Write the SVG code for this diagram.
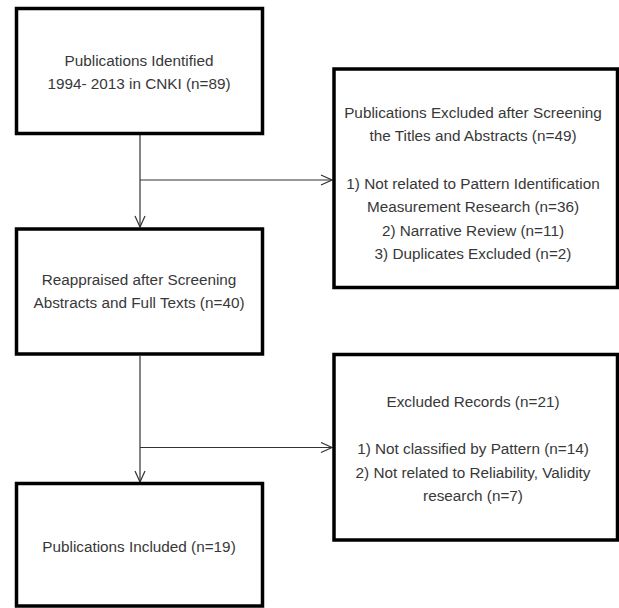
<svg xmlns="http://www.w3.org/2000/svg" width="619" height="608" viewBox="0 0 619 608">
<style>
.box{fill:#fff;stroke:#000;stroke-width:3.5}
.t{font-family:"Liberation Sans",Arial,sans-serif;font-size:15.3px;fill:#383838;text-anchor:middle}
.c{fill:none;stroke:#333;stroke-width:1.2}
</style>
<defs>
<marker id="arr" markerUnits="userSpaceOnUse" markerWidth="14" markerHeight="14" refX="12" refY="6" orient="auto">
<path d="M1,1 L12,6 L1,11" fill="none" stroke="#333" stroke-width="1.2"/>
</marker>
</defs>
<rect width="619" height="608" fill="#fff"/>
<g id="connectors">
<line class="c" x1="140" y1="135" x2="140" y2="227" marker-end="url(#arr)"/>
<line class="c" x1="140" y1="180" x2="332" y2="180" marker-end="url(#arr)"/>
<line class="c" x1="140" y1="356" x2="140" y2="482" marker-end="url(#arr)"/>
<line class="c" x1="140" y1="447.5" x2="332" y2="447.5" marker-end="url(#arr)"/>
</g>
<g id="identified">
<rect class="box" x="16.5" y="8.5" width="246" height="125"/>
<text class="t" x="139" y="66">Publications Identified</text>
<text class="t" x="139" y="89">1994- 2013 in CNKI (n=89)</text>
</g>
<g id="excluded1">
<rect class="box" x="334" y="69" width="283.5" height="218.5"/>
<text class="t" x="473" y="118">Publications Excluded after Screening</text>
<text class="t" x="473" y="141">the Titles and Abstracts (n=49)</text>
<text class="t" x="473" y="189">1) Not related to Pattern Identification</text>
<text class="t" x="473" y="212">Measurement Research (n=36)</text>
<text class="t" x="473" y="236">2) Narrative Review (n=11)</text>
<text class="t" x="473" y="259">3) Duplicates Excluded (n=2)</text>
</g>
<g id="reappraised">
<rect class="box" x="16.5" y="229" width="246" height="125"/>
<text class="t" x="139" y="285">Reappraised after Screening</text>
<text class="t" x="139" y="308">Abstracts and Full Texts (n=40)</text>
</g>
<g id="excluded2">
<rect class="box" x="334" y="354.5" width="283.5" height="185.5"/>
<text class="t" x="473" y="407">Excluded Records (n=21)</text>
<text class="t" x="473" y="454">1) Not classified by Pattern (n=14)</text>
<text class="t" x="473" y="477.5">2) Not related to Reliability, Validity</text>
<text class="t" x="473" y="501">research (n=7)</text>
</g>
<g id="included">
<rect class="box" x="16.5" y="483.5" width="246" height="122.5"/>
<text class="t" x="139" y="552">Publications Included (n=19)</text>
</g>
</svg>
